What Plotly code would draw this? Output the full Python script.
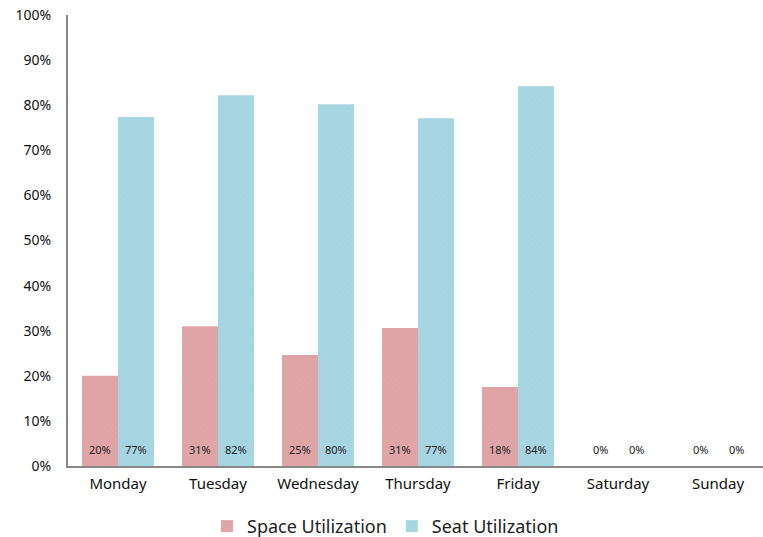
import plotly.graph_objects as go

days = ["Monday", "Tuesday", "Wednesday", "Thursday", "Friday", "Saturday", "Sunday"]
space_util = [0.20, 0.31, 0.246, 0.306, 0.175, 0.0, 0.0]
seat_util = [0.774, 0.822, 0.802, 0.771, 0.842, 0.0, 0.0]
space_labels = ["20%", "31%", "25%", "31%", "18%", "0%", "0%"]
seat_labels = ["77%", "82%", "80%", "77%", "84%", "0%", "0%"]
y_ticks = [0, 0.1, 0.2, 0.3, 0.4, 0.5, 0.6, 0.7, 0.8, 0.9, 1.0]
y_tick_labels = ["0%", "10%", "20%", "30%", "40%", "50%", "60%", "70%", "80%", "90%", "100%"]

FONT = "Noto Sans"
red = "#e0a6a7"
blue = "#a6d6e2"

fig = go.Figure()
fig.add_trace(go.Bar(
    x=days, y=space_util, name="Space Utilization",
    marker=dict(color=red, line=dict(width=0),
                pattern=dict(shape="x", fgcolor="#d99a9b", size=4, solidity=0.2)),
))
fig.add_trace(go.Bar(
    x=days, y=seat_util, name="Seat Utilization",
    marker=dict(color=blue, line=dict(width=0),
                pattern=dict(shape="x", fgcolor="#9ccdd9", size=4, solidity=0.2)),
))

off = 0.18
for i, (a, b) in enumerate(zip(space_labels, seat_labels)):
    fig.add_annotation(x=i - off, y=0.037, text=a, showarrow=False, xref="x", yref="y",
                       font=dict(family=FONT, size=11, color="#222"))
    fig.add_annotation(x=i + off, y=0.037, text=b, showarrow=False, xref="x", yref="y",
                       font=dict(family=FONT, size=11, color="#222"))

fig.update_layout(
    width=763, height=537,
    margin=dict(l=68, r=0, t=15, b=71, autoexpand=False),
    plot_bgcolor="white", paper_bgcolor="white",
    barmode="group", bargap=0.28, bargroupgap=0,
    font=dict(family=FONT, color="#111"),
    legend=dict(orientation="h", x=0.2, xanchor="left", y=-0.093, yanchor="top",
                font=dict(family=FONT, size=18, color="#222"),
                itemwidth=30, traceorder="normal"),
    xaxis=dict(range=[-0.5, 6.45], showline=True, linecolor="#888", linewidth=2,
               ticks="outside", ticklen=3, tickcolor="white",
               tickfont=dict(family=FONT, size=15, color="#111"),
               showgrid=False, automargin=False),
    yaxis=dict(range=[0, 1], tickvals=y_ticks, ticktext=y_tick_labels,
               showline=True, linecolor="#888", linewidth=2, showgrid=False,
               ticks="outside", ticklen=12, tickcolor="white", zeroline=False,
               automargin=False, ticklabeloverflow="allow",
               tickfont=dict(family=FONT, size=14, color="#111")),
)

fig.write_html("out.html", config={"displayModeBar": False},
               post_script="document.body.style.margin='0';document.body.style.overflow='hidden';")
